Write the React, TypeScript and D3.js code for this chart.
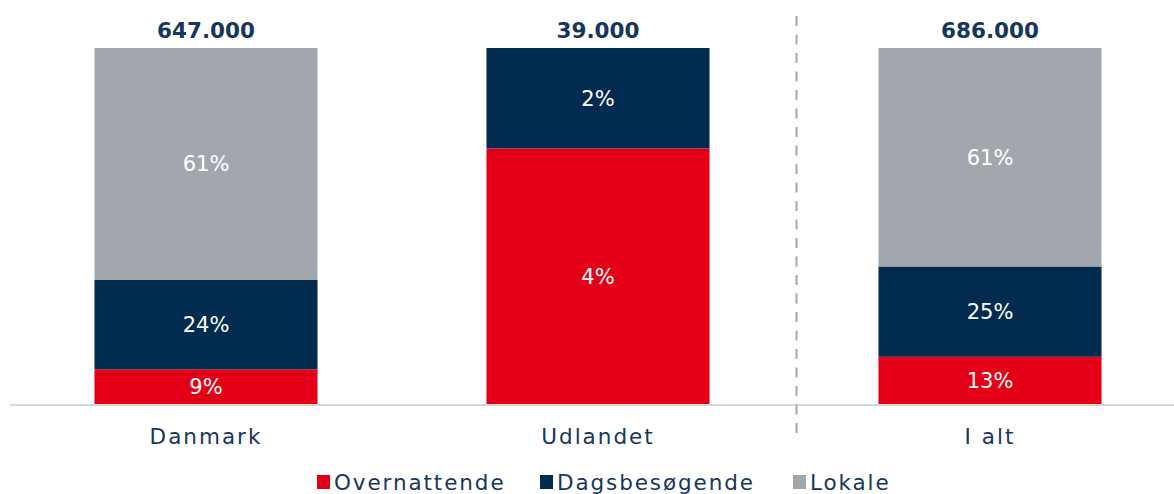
import React from "react";
import * as d3 from "d3";

const categories = ["Danmark", "Udlandet", "I alt"];
const seriesNames = ["Overnattende", "Dagsbesøgende", "Lokale"];
const seriesColors = ["#E30016", "#022B50", "#A2A7AD"];
// values in thousands of persons
const overnattende = [63, 28, 91];
const dagsbesoegende = [163, 11, 174];
const lokale = [421, 0, 421];
const totalLabels = ["647.000", "39.000", "686.000"];

const W = 1174;
const H = 494;
const FONT = "'DejaVu Sans', sans-serif";
const NAVY_TEXT = "#17365C";

export default function App() {
  const series = [overnattende, dagsbesoegende, lokale];
  const grand = d3.sum(series, (s) => s[2]);
  const x = d3
    .scaleBand<string>()
    .domain(categories)
    .range([10, 1186])
    .paddingInner(0.431)
    .paddingOuter(0.2155);
  const y = d3.scaleLinear().domain([0, 1]).range([404, 48]);
  const bw = x.bandwidth();

  const rows = categories.map((c, i) => {
    const obj: any = { cat: c };
    seriesNames.forEach((s, j) => (obj[s] = series[j][i]));
    return obj;
  });
  const stacked = d3.stack<any>().keys(seriesNames).offset(d3.stackOffsetExpand)(rows);

  const divX = (x("Udlandet")! + bw + x("I alt")!) / 2 + 2.5;

  const legendX = [317, 540, 793];

  return (
    <svg width={W} height={H} style={{ position: "absolute", left: 0, top: 0 }} fontFamily={FONT}>
      <rect width={W} height={H} fill="#fff" />
      {stacked.map((layer, j) =>
        layer.map((d, i) => {
          const v = series[j][i];
          if (!v) return null;
          const y0 = y(d[0]);
          const y1 = y(d[1]);
          const pct = Math.round((v / grand) * 100) + "%";
          return (
            <g key={j + "-" + i}>
              <rect x={x(categories[i])} y={y1} width={bw} height={y0 - y1} fill={seriesColors[j]} />
              <text
                x={x(categories[i])! + bw / 2}
                y={(y0 + y1) / 2 + 7.5}
                textAnchor="middle"
                fill="#fff"
                fontSize={21}
              >
                {pct}
              </text>
            </g>
          );
        })
      )}
      <line x1={10} x2={W} y1={405} y2={405} stroke="#D9D9D9" strokeWidth={2} />
      <line x1={divX} x2={divX} y1={16} y2={440} stroke="#A6A6A6" strokeWidth={2} strokeDasharray="10 8.5" />
      {categories.map((c, i) => (
        <g key={c}>
          <text x={x(c)! + bw / 2} y={38} textAnchor="middle" fill={NAVY_TEXT} fontSize={21.5} fontWeight="bold">
            {totalLabels[i]}
          </text>
          <text
            x={x(c)! + bw / 2}
            y={444}
            textAnchor="middle"
            fill={NAVY_TEXT}
            fontSize={21.5}
            letterSpacing={2}
          >
            {c}
          </text>
        </g>
      ))}
      {seriesNames.map((s, j) => (
        <g key={s}>
          <rect x={legendX[j]} y={475} width={13} height={14} fill={seriesColors[j]} />
          <text x={legendX[j] + 17} y={490} fill={NAVY_TEXT} fontSize={21.5} letterSpacing={1.9}>
            {s}
          </text>
        </g>
      ))}
    </svg>
  );
}
